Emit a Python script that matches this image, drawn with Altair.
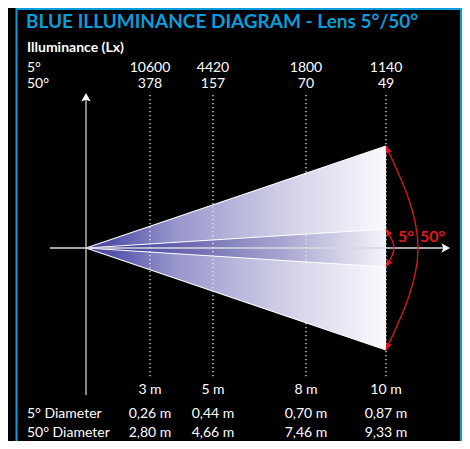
import altair as alt
import pandas as pd

# ---------------- data (diagram units: lamp at 0, 10 m column at 100) ----------------
col_x = [21.33, 42.33, 73.33, 100.0]
distances = ["3 m", "5 m", "8 m", "10 m"]
lux_5 = ["10600", "4420", "1800", "1140"]
lux_50 = ["378", "157", "70", "49"]
diam_5 = ["0,26 m", "0,44 m", "0,70 m", "0,87 m"]
diam_50 = ["2,80 m", "4,66 m", "7,46 m", "9,33 m"]

beam_len = 100.0
half_50 = 34.0
half_5 = 6.33
arc_50_bulge = 110.67
arc_5_bulge = 102.67

row_lux5, row_lux50 = 58.67, 53.33
row_dist, row_d5, row_d50 = -48.67, -56.67, -63.0
left_x = -19.67

BLUE = "#0a9ddb"
RED = "#e3171f"
W, H = 454, 433

xs = alt.Scale(domain=[-26, 125.333], range=[0, W], nice=False, zero=False)
ys = alt.Scale(domain=[-64.333, 80], range=[H, 0], nice=False, zero=False)


def X(f):
    return alt.X(f, type="quantitative", scale=xs, axis=None)


def Y(f):
    return alt.Y(f, type="quantitative", scale=ys, axis=None)


def X2(f):
    return alt.X2(f)


def Y2(f):
    return alt.Y2(f)


# border
border = alt.Chart(pd.DataFrame({"a": [0]})).mark_rect(
    fillOpacity=0, stroke=BLUE, strokeWidth=2
).encode(x=alt.value(8.5), x2=alt.value(453), y=alt.value(1), y2=alt.value(470))

# beams
outer_df = pd.DataFrame({"x": [0, beam_len], "y": [0, half_50], "y2": [0, -half_50]})
inner_df = pd.DataFrame({"x": [0, beam_len], "y": [0, half_5], "y2": [0, -half_5]})

outer_grad = alt.Gradient(
    gradient="linear",
    stops=[
        alt.GradientStop(offset=0, color="#3a389a"),
        alt.GradientStop(offset=0.3, color="#9896cc"),
        alt.GradientStop(offset=0.65, color="#cfcde6"),
        alt.GradientStop(offset=1, color="#fafafe"),
    ],
    x1=0, x2=1, y1=0, y2=0,
)
inner_grad = alt.Gradient(
    gradient="linear",
    stops=[
        alt.GradientStop(offset=0, color="#2e2c8e"),
        alt.GradientStop(offset=0.3, color="#6664ae"),
        alt.GradientStop(offset=0.65, color="#a6a4d0"),
        alt.GradientStop(offset=1, color="#f4f4fa"),
    ],
    x1=0, x2=1, y1=0, y2=0,
)

outer = alt.Chart(outer_df).mark_area(color=outer_grad).encode(x=X("x"), y=Y("y"), y2=Y2("y2"))
inner = alt.Chart(inner_df).mark_area(color=inner_grad).encode(x=X("x"), y=Y("y"), y2=Y2("y2"))

edges_df = pd.DataFrame({
    "edge": ["o1", "o1", "o2", "o2", "i1", "i1", "i2", "i2"],
    "x": [0, beam_len] * 4,
    "y": [0, half_50, 0, -half_50, 0, half_5, 0, -half_5],
})
edges = alt.Chart(edges_df).mark_line(color="#ffffff", strokeWidth=1.2).encode(
    x=X("x"), y=Y("y"), detail="edge:N"
)

# axes
haxis = alt.Chart(pd.DataFrame({"x": [-12], "x2": [119], "y": [0]})).mark_rule(
    color="#d8d8e0", strokeWidth=1.3
).encode(x=X("x"), x2=X2("x2"), y=Y("y"))
vaxis = alt.Chart(pd.DataFrame({"x": [0], "y": [-49], "y2": [50]})).mark_rule(
    color="#d0d0d0", strokeWidth=1.3
).encode(x=X("x"), y=Y("y"), y2=Y2("y2"))

arrow_path = "M0,0 L1,1.8 L0,1.4 L-1,1.8 Z"
axis_arrows = alt.Chart(pd.DataFrame({"x": [0, 121.33], "y": [51.67, 0], "ang": [0, 90]})).mark_point(
    shape=arrow_path, filled=True, color="#ffffff", size=90, opacity=1
).encode(x=X("x"), y=Y("y"), angle=alt.Angle("ang:Q", scale=None))

# dotted distance lines
dots = alt.Chart(pd.DataFrame({"x": col_x, "y": [51] * 4, "y2": [-43.3] * 4})).mark_rule(
    color="#e8e8e8", strokeWidth=1.3, strokeDash=[1.3, 2.7]
).encode(x=X("x"), y=Y("y"), y2=Y2("y2"))

# red angle arcs
arcs_df = pd.DataFrame({
    "arc": ["a50"] * 3 + ["a5"] * 3,
    "o": [0, 1, 2, 0, 1, 2],
    "x": [beam_len, arc_50_bulge, beam_len, beam_len, arc_5_bulge, beam_len],
    "y": [half_50, 0, -half_50, half_5, 0, -half_5],
})
arcs = alt.Chart(arcs_df).mark_line(interpolate="natural", color=RED, strokeWidth=1.3).encode(
    x=X("x"), y=Y("y"), detail="arc:N", order="o:Q"
)
red_path = "M0,0 L0.8,2 L0,1.6 L-0.8,2 Z"
red_heads = alt.Chart(pd.DataFrame({
    "x": [beam_len] * 4,
    "y": [half_50, -half_50, half_5, -half_5],
    "ang": [335, 205, 328, 212],
})).mark_point(shape=red_path, filled=True, color=RED, size=64, opacity=1).encode(
    x=X("x"), y=Y("y"), angle=alt.Angle("ang:Q", scale=None)
)
red_labels = alt.Chart(pd.DataFrame({"x": [104, 111.33], "y": [2, 2], "t": ["5°", "50°"]})).mark_text(
    align="left", baseline="alphabetic", font="Lato", fontWeight="bold",
    fontSize=16, color=RED
).encode(x=X("x"), y=Y("y"), text="t:N")

# column texts
rows = []
for i, cx in enumerate(col_x):
    rows += [
        {"x": cx, "y": row_lux5, "t": lux_5[i]},
        {"x": cx, "y": row_lux50, "t": lux_50[i]},
        {"x": cx, "y": row_dist, "t": distances[i]},
        {"x": cx, "y": row_d5, "t": diam_5[i]},
        {"x": cx, "y": row_d50, "t": diam_50[i]},
    ]
col_text = alt.Chart(pd.DataFrame(rows)).mark_text(
    align="center", baseline="alphabetic", font="Lato", fontSize=14, color="#ffffff"
).encode(x=X("x"), y=Y("y"), text="t:N")

left_text = alt.Chart(pd.DataFrame({
    "x": [left_x] * 4,
    "y": [row_lux5, row_lux50, row_d5, row_d50],
    "t": ["5°", "50°", "5° Diameter", "50° Diameter"],
})).mark_text(align="left", baseline="alphabetic", font="Lato", fontSize=14, color="#ffffff").encode(
    x=X("x"), y=Y("y"), text="t:N"
)

header = alt.Chart(pd.DataFrame({"x": [left_x], "y": [65.33], "t": ["Illuminance (Lx)"]})).mark_text(
    align="left", baseline="alphabetic", font="Lato", fontWeight="bold", fontSize=14, color="#ffffff"
).encode(x=X("x"), y=Y("y"), text="t:N")

title = alt.Chart(pd.DataFrame({"x": [-20], "y": [73.33], "t": ["BLUE ILLUMINANCE DIAGRAM - Lens 5°/50°"]})).mark_text(
    align="left", baseline="alphabetic", font="Lato", fontWeight="bold", fontSize=19, color=BLUE
).encode(x=X("x"), y=Y("y"), text="t:N")

chart = alt.layer(
    border, outer, inner, edges, haxis, vaxis, axis_arrows, dots,
    arcs, red_heads, red_labels, col_text, left_text, header, title,
).properties(
    width=W, height=H, background="#000000", padding=0,
    autosize=alt.AutoSizeParams(type="none"),
).configure_view(stroke=None)

chart.save("out.html", embed_options={"renderer": "svg", "actions": False})
